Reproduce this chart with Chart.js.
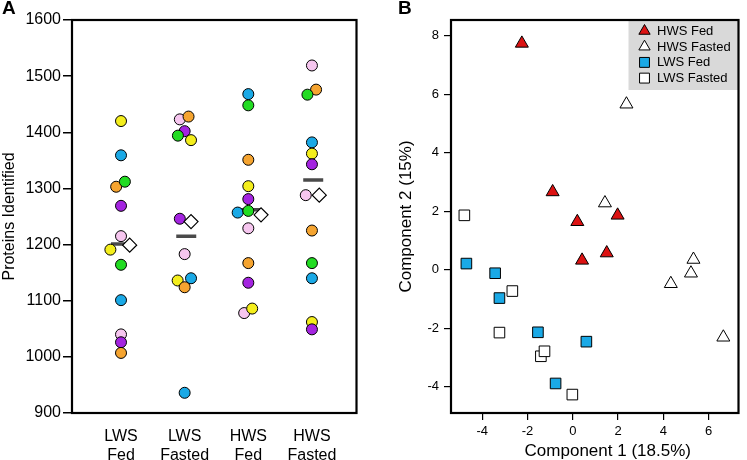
<!DOCTYPE html>
<html>
<head>
<meta charset="utf-8">
<script src="https://cdn.jsdelivr.net/npm/chart.js@4.4.0/dist/chart.umd.min.js"></script>
<style>
  html, body { margin: 0; padding: 0; background: #fff; }
  #wrap { position: relative; width: 747px; height: 460px; overflow: hidden; }
  canvas { position: absolute; top: 0; }
  #chartA { left: 0; }
  #chartB { left: 370px; }
  .tag { position: absolute; font: bold 19px "Liberation Sans", Arial, sans-serif; }
</style>
</head>
<body>
<div id="wrap">
  <canvas id="chartA" width="370" height="460"></canvas>
  <canvas id="chartB" width="377" height="460"></canvas>
  <div class="tag" style="left:2px;top:-3px">A</div>
  <div class="tag" style="left:398px;top:-3px">B</div>
</div>

<script>
// ---------- Panel A : proteins identified per animal ----------
const groups = ["LWS Fed", "LWS Fasted", "HWS Fed", "HWS Fasted"];
const yTicksA = [900, 1000, 1100, 1200, 1300, 1400, 1500, 1600];

// one colour per animal (letters map to palette below)
const palette = {
  y: "#f4ee1c", b: "#1aa9e6", o: "#f5a430", g: "#22dc22", p: "#a424e0", k: "#f6c6ef"
};

const lwsFedVals = [1420, 1359, 1303, 1312, 1269, 1215, 1191, 1164, 1101, 1040, 1026, 1007];
const lwsFedCols = ["y", "b", "o", "g", "p", "k", "y", "g", "b", "k", "p", "o"];
const lwsFedJit = [0, 0, -0.076, 0.061, 0, 0, -0.167, 0, 0, 0, 0, 0];

const lwsFastVals = [1423, 1428, 1402, 1394, 1386, 1246, 1183, 1136, 1140, 1124, 936];
const lwsFastCols = ["k", "o", "p", "g", "y", "p", "k", "y", "b", "o", "b"];
const lwsFastJit = [-0.076, 0.061, 0, -0.106, 0.1, -0.076, 0, -0.11, 0.1, 0, 0];

const hwsFedVals = [1468, 1448, 1351, 1304, 1281, 1257, 1260, 1229, 1167, 1132, 1078, 1086];
const hwsFedCols = ["b", "g", "o", "y", "p", "b", "g", "k", "o", "p", "k", "y"];
const hwsFedJit = [0, 0, 0, 0, 0, -0.167, 0, 0, 0, 0, -0.065, 0.061];

const hwsFastVals = [1519, 1476, 1467, 1382, 1362, 1343, 1288, 1225, 1167, 1140, 1062, 1049];
const hwsFastCols = ["k", "o", "g", "b", "y", "p", "k", "o", "g", "b", "y", "p"];
const hwsFastJit = [0, 0.065, -0.071, 0, 0, 0, -0.097, 0, 0, 0, 0, 0];

// grey bar and open diamond per group
const barVals = [1201, 1215, 1262, 1315];
const barShift = [0, 0.025, 0.03, 0.02];
const diamondVals = [1199, 1241, 1253, 1288];
const diamondShift = [0.136, 0.1, 0.2, 0.115];

// ---------- Panel B : PCA ----------
const xTicksB = [-4, -2, 0, 2, 4, 6];
const yTicksB = [-4, -2, 0, 2, 4, 6, 8];

const hwsFedX = [-2.25, -0.89, 0.2, 1.98, 0.41, 1.5];
const hwsFedY = [7.74, 2.66, 1.64, 1.86, 0.32, 0.57];
const hwsFastedX = [2.37, 1.42, 5.33, 5.22, 4.33, 6.65];
const hwsFastedY = [5.66, 2.28, 0.35, -0.12, -0.48, -2.31];
const lwsFedX = [-4.7, -3.43, -3.24, -1.54, 0.6, -0.76];
const lwsFedY = [0.21, -0.12, -0.97, -2.14, -2.46, -3.89];
const lwsFastedX = [-4.79, -2.67, -3.24, -1.41, -1.25, -0.02];
const lwsFastedY = [1.86, -0.73, -2.15, -2.96, -2.79, -4.27];

Chart.defaults.font.family = '"Liberation Sans", Arial, sans-serif';
Chart.defaults.color = "#000";

// black frame round the plotting area
const frame = {
  id: "frame",
  afterDraw(chart) {
    const { ctx, chartArea: a } = chart;
    ctx.save();
    ctx.strokeStyle = "#000";
    ctx.lineWidth = 2.2;
    ctx.strokeRect(a.left, a.top, a.right - a.left, a.bottom - a.top);
    ctx.restore();
  }
};

const toPts = (vals, jit, i) => vals.map((v, k) => ({ x: i + 1 + jit[k], y: v }));
const colsOf = (cols) => cols.map((c) => palette[c]);

const valsA = [lwsFedVals, lwsFastVals, hwsFedVals, hwsFastVals];
const colsA = [lwsFedCols, lwsFastCols, hwsFedCols, hwsFastCols];
const jitA = [lwsFedJit, lwsFastJit, hwsFedJit, hwsFastJit];

const dotSets = groups.map((g, i) => ({
  label: g,
  data: toPts(valsA[i], jitA[i], i),
  pointBackgroundColor: colsOf(colsA[i]),
  pointBorderColor: "#000",
  pointBorderWidth: 1,
  pointRadius: 5.5,
  order: 1
}));

new Chart(document.getElementById("chartA"), {
  type: "scatter",
  data: {
    datasets: [
      {
        label: "bar",
        data: barVals.map((v, i) => ({ x: i + 1 + barShift[i], y: v })),
        pointStyle: "line",
        pointRadius: 10,
        pointBorderWidth: 3.5,
        pointBorderColor: "#4a4a4a",
        order: 2
      },
      ...dotSets,
      {
        label: "diamond",
        data: diamondVals.map((v, i) => ({ x: i + 1 + diamondShift[i], y: v })),
        pointStyle: "rectRot",
        pointRadius: 7,
        pointBackgroundColor: "#fff",
        pointBorderColor: "#000",
        pointBorderWidth: 1.2,
        order: 0
      }
    ]
  },
  options: {
    responsive: false,
    animation: false,
    events: [],
    layout: { padding: { top: 20, right: 3, left: 0, bottom: 0 } },
    plugins: { legend: { display: false }, tooltip: { enabled: false } },
    scales: {
      x: {
        type: "linear",
        min: 0.23,
        max: 4.7,
        afterBuildTicks: (s) => { s.ticks = groups.map((g, i) => ({ value: i + 1 })); },
        afterFit: (s) => { s.height = 47; },
        grid: { display: false },
        border: { display: false },
        ticks: {
          font: { size: 16 },
          padding: 6,
          maxRotation: 0,
          callback: (v) => groups[v - 1] ? groups[v - 1].split(" ") : ""
        }
      },
      y: {
        min: 900,
        max: 1600,
        afterBuildTicks: (s) => { s.ticks = yTicksA.map((v) => ({ value: v })); },
        afterFit: (s) => { s.width = 72; },
        grid: { display: true, drawOnChartArea: false, drawTicks: true, tickLength: 9, color: "#000", lineWidth: 1.5 },
        border: { display: false },
        ticks: { font: { size: 16 }, padding: 2, callback: (v) => String(v) },
        title: { display: true, text: "Proteins Identified", font: { size: 16 }, padding: { top: 0, bottom: 0 } }
      }
    }
  },
  plugins: [frame]
});

// ---------- Panel B chart ----------
const boxLegend = {
  id: "boxLegend",
  afterDraw(chart) {
    const { ctx, chartArea: a } = chart;
    const w = 110, h = 70;
    ctx.save();
    ctx.fillStyle = "#d9d9d9";
    ctx.fillRect(a.right - w, a.top, w, h);
    ctx.font = '13px "Liberation Sans", Arial, sans-serif';
    ctx.textBaseline = "middle";
    chart.data.datasets.forEach((ds, i) => {
      const x = a.right - w + 16;
      const y = a.top + 11 + i * 15.7;
      ctx.fillStyle = ds.pointBackgroundColor;
      ctx.strokeStyle = "#000";
      ctx.lineWidth = 1;
      Chart.helpers.drawPoint(ctx, {
        pointStyle: ds.pointStyle,
        radius: ds.pointStyle === "triangle" ? 6.5 : 7,
        rotation: 0,
        borderWidth: 1
      }, x, y);
      ctx.fillStyle = "#000";
      ctx.fillText(ds.label, x + 12.5, y + 0.5);
    });
    // x-axis title, set a little right of the plot centre as in the figure
    ctx.font = '17px "Liberation Sans", Arial, sans-serif';
    ctx.textAlign = "center";
    ctx.fillText("Component 1 (18.5%)", (a.left + a.right) / 2 + 13, a.bottom + 38);
    ctx.restore();
  }
};

const xy = (xs, ys) => xs.map((x, k) => ({ x: x, y: ys[k] }));

new Chart(document.getElementById("chartB"), {
  type: "scatter",
  data: {
    datasets: [
      { label: "HWS Fed", data: xy(hwsFedX, hwsFedY), pointStyle: "triangle", pointRadius: 7.5,
        pointBackgroundColor: "#dc1212", pointBorderColor: "#000", pointBorderWidth: 1 },
      { label: "HWS Fasted", data: xy(hwsFastedX, hwsFastedY), pointStyle: "triangle", pointRadius: 7.5,
        pointBackgroundColor: "#fff", pointBorderColor: "#000", pointBorderWidth: 1 },
      { label: "LWS Fed", data: xy(lwsFedX, lwsFedY), pointStyle: "rect", pointRadius: 7.5,
        pointBackgroundColor: "#1aa9e6", pointBorderColor: "#000", pointBorderWidth: 1 },
      { label: "LWS Fasted", data: xy(lwsFastedX, lwsFastedY), pointStyle: "rect", pointRadius: 7.5,
        pointBackgroundColor: "#fff", pointBorderColor: "#000", pointBorderWidth: 1 }
    ]
  },
  options: {
    responsive: false,
    animation: false,
    events: [],
    layout: { padding: { top: 20, right: 1, left: 0, bottom: 0 } },
    plugins: { legend: { display: false }, tooltip: { enabled: false } },
    scales: {
      x: {
        min: -5.38,
        max: 7.32,
        afterBuildTicks: (s) => { s.ticks = xTicksB.map((v) => ({ value: v })); },
        afterFit: (s) => { s.height = 47; },
        grid: { display: true, drawOnChartArea: false, drawTicks: true, tickLength: 7, color: "#000", lineWidth: 1.2 },
        border: { display: false },
        ticks: { font: { size: 13 }, padding: 4, maxRotation: 0 }
      },
      y: {
        min: -4.9,
        max: 8.54,
        afterBuildTicks: (s) => { s.ticks = yTicksB.map((v) => ({ value: v })); },
        afterFit: (s) => { s.width = 81; },
        grid: { display: true, drawOnChartArea: false, drawTicks: true, tickLength: 7, color: "#000", lineWidth: 1.2 },
        border: { display: false },
        ticks: { font: { size: 13 }, padding: 5 },
        title: { display: true, text: "Component 2 (15%)", font: { size: 17 }, padding: { top: 26, bottom: 0 } }
      }
    }
  },
  plugins: [boxLegend, frame]
});
</script>
</body>
</html>
